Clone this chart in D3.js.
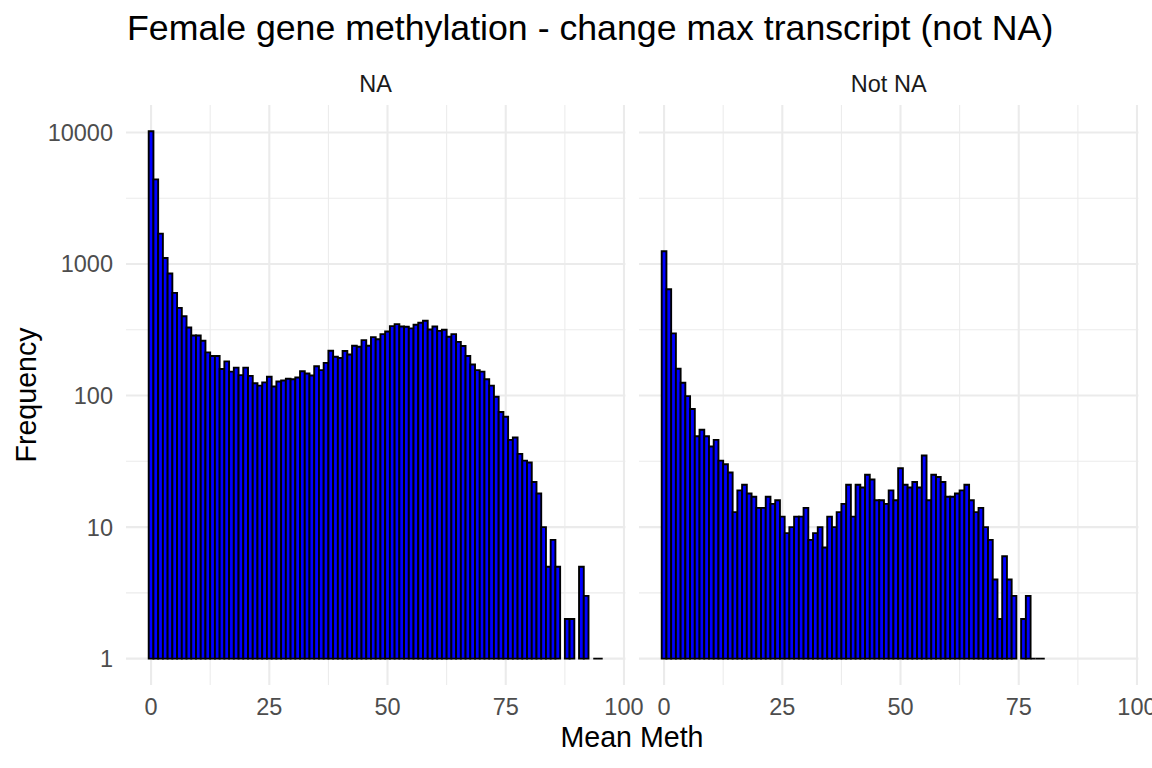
<!DOCTYPE html>
<html>
<head>
<meta charset="utf-8">
<script src="https://cdn.jsdelivr.net/npm/d3@7"></script>
<style>
    body { margin: 0; background: #fff; }
    svg { display: block; font-family: "Liberation Sans", Arial, sans-serif; }
    .grid-major { stroke: #ebebeb; stroke-width: 2.1; }
    .grid-minor { stroke: #ebebeb; stroke-width: 1.05; }
    .bar { fill: #0000ff; stroke: #000; stroke-width: 1.9; }
    .tick-label { fill: #4d4d4d; font-size: 23.5px; }
    .strip { fill: #1a1a1a; font-size: 23.5px; }
    .axis-title { fill: #000; font-size: 28.6px; }
    .title { fill: #000; font-size: 35.7px; }
</style>
</head>
<body>
<div id="chart"></div>
<script>
// Histogram counts, one value per 1-unit bin centred on 0, 1, 2, ...
var facets = ['NA', 'Not NA'];

var countsNA = [
    10200, 4400, 1700, 1110, 846, 603, 464, 401, 329, 286,
    286, 261, 213, 200, 200, 159, 182, 152, 163, 143,
    163, 141, 124, 119, 126, 139, 117, 128, 130, 134,
    133, 137, 153, 147, 142, 167, 156, 177, 219, 197,
    193, 218, 205, 239, 235, 264, 239, 278, 268, 293,
    307, 337, 349, 335, 333, 324, 345, 358, 370, 318,
    335, 310, 316, 280, 293, 256, 238, 200, 172, 156,
    152, 133, 119, 98, 75, 69, 46, 48, 36, 32,
    31, 22, 18, 10, 5, 8, 5, 0, 2, 2,
    0, 5, 3, 0, 1, 1
];

var countsNotNA = [
    1250, 643, 297, 160, 125, 99, 79, 49, 55, 49,
    41, 46, 32, 30, 26, 13, 19, 21, 18, 17,
    14, 14, 17, 15, 16, 12, 9, 10, 12, 12,
    14, 8, 9, 10, 7, 12, 10, 13, 15, 21,
    12, 21, 20, 25, 23, 16, 16, 15, 19, 16,
    28, 21, 20, 22, 20, 35, 16, 25, 24, 22,
    17, 17, 18, 19, 21, 16, 13, 14, 10, 8,
    4, 2, 6, 4, 3, 0, 2, 3, 1, 1,
    1
];

var xTicks = [0, 25, 50, 75, 100];
var xMinor = [12.5, 37.5, 62.5, 87.5];
var yTicks = [1, 10, 100, 1000, 10000];
var yMinor = [3.1623, 31.623, 316.23, 3162.3];

(function (d3) {
    'use strict';

    var width = 1152, height = 768;
    var top = 105, bottom = 685;
    var panels = [
        {label: facets[0], counts: countsNA, x0: 126, x1: 625.4},
        {label: facets[1], counts: countsNotNA, x0: 639, x1: 1138.4}
    ];

    var svg = d3.select('#chart').append('svg')
        .attr('width', width)
        .attr('height', height)
    ;

    var y = d3.scaleLog()
        .domain([Math.pow(10, -0.2004), Math.pow(10, 4.2086)])
        .range([bottom, top])
    ;

    panels.forEach(function (panel, k) {
        var x = d3.scaleLinear()
            .domain([-5.3, 100.3])
            .range([panel.x0, panel.x1])
        ;

        var g = svg.append('g').attr('class', 'panel');

        // minor grid first, then major
        g.selectAll('.gx-minor').data(xMinor).enter().append('line')
            .attr('class', 'grid-minor')
            .attr('x1', x).attr('x2', x)
            .attr('y1', top).attr('y2', bottom)
        ;
        g.selectAll('.gy-minor').data(yMinor).enter().append('line')
            .attr('class', 'grid-minor')
            .attr('x1', panel.x0).attr('x2', panel.x1)
            .attr('y1', y).attr('y2', y)
        ;
        g.selectAll('.gx-major').data(xTicks).enter().append('line')
            .attr('class', 'grid-major')
            .attr('x1', x).attr('x2', x)
            .attr('y1', top).attr('y2', bottom)
        ;
        g.selectAll('.gy-major').data(yTicks).enter().append('line')
            .attr('class', 'grid-major')
            .attr('x1', panel.x0).attr('x2', panel.x1)
            .attr('y1', y).attr('y2', y)
        ;

        var bins = panel.counts
            .map(function (c, i) { return {bin: i, count: c}; })
            .filter(function (d) { return d.count > 0; })
        ;

        // paths so that a bar of height zero (count 1) still shows its outline
        g.selectAll('.bar').data(bins).enter().append('path')
            .attr('class', 'bar')
            .attr('d', function (d) {
                var a = x(d.bin - 0.5), b = x(d.bin + 0.5);
                return 'M' + a + ',' + y(1) + 'H' + b + 'V' + y(d.count) + 'H' + a + 'Z';
            })
        ;

        // strip label
        svg.append('text')
            .attr('class', 'strip')
            .attr('x', (panel.x0 + panel.x1) / 2)
            .attr('y', 92)
            .attr('text-anchor', 'middle')
            .text(panel.label)
        ;

        // x tick labels
        svg.selectAll('.xt' + k).data(xTicks).enter().append('text')
            .attr('class', 'tick-label xt' + k)
            .attr('x', x)
            .attr('y', 715)
            .attr('text-anchor', 'middle')
            .text(function (d) { return d; })
        ;
    });

    // y tick labels (left panel only)
    svg.selectAll('.yt').data(yTicks).enter().append('text')
        .attr('class', 'tick-label yt')
        .attr('x', 113)
        .attr('y', function (d) { return y(d) + 8.5; })
        .attr('text-anchor', 'end')
        .text(function (d) { return d; })
    ;

    svg.append('text')
        .attr('class', 'title')
        .attr('x', 127)
        .attr('y', 40)
        .text('Female gene methylation - change max transcript (not NA)')
    ;

    svg.append('text')
        .attr('class', 'axis-title')
        .attr('x', 632)
        .attr('y', 747)
        .attr('text-anchor', 'middle')
        .text('Mean Meth')
    ;

    svg.append('text')
        .attr('class', 'axis-title')
        .attr('transform', 'translate(26,' + ((top + bottom) / 2) + ') rotate(-90)')
        .attr('dy', '0.36em')
        .attr('text-anchor', 'middle')
        .text('Frequency')
    ;

})(d3);
</script>
</body>
</html>
